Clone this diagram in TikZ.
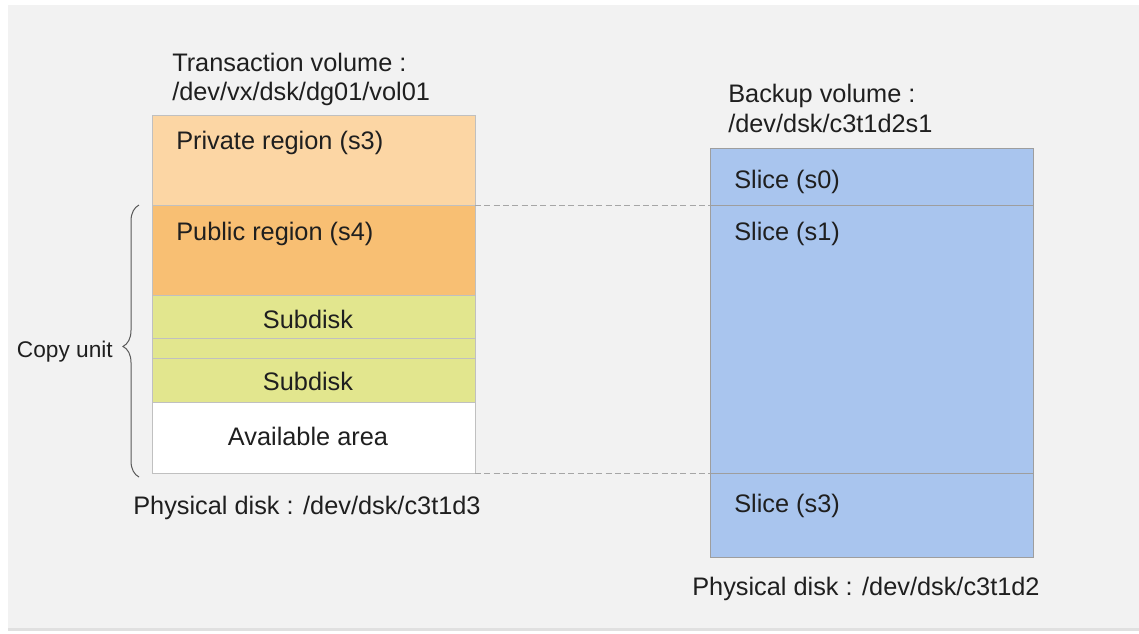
\documentclass[tikz,border=0pt]{standalone}
\usepackage{fontspec}
\setmainfont{Liberation Sans}
\usetikzlibrary{decorations.pathreplacing}
\definecolor{panelgray}{HTML}{F2F2F2}
\definecolor{privcol}{HTML}{FCD6A4}
\definecolor{pubcol}{HTML}{F8BF73}
\definecolor{subcol}{HTML}{E2E68E}
\definecolor{slicecol}{HTML}{A9C5EE}
\definecolor{edgegray}{HTML}{C0C0C0}
\begin{document}
\begin{tikzpicture}[x=0.75pt,y=-0.75pt]
\tikzstyle{region} = [draw=edgegray, line width=0.75pt, inner sep=0, outer sep=0, anchor=north west, minimum width=242.25pt]
\tikzstyle{slice} = [region, fill=slicecol, draw=black!38]
\tikzstyle{txt} = [inner sep=0, font=\fontsize{19}{22}\selectfont, text=black!88]
\tikzstyle{guide} = [draw=black!35, line width=0.75pt, dash pattern=on 4.5pt off 2.5pt]
\tikzstyle{curly} = [decorate, decoration={brace, amplitude=12pt, aspect=0.48}, draw=black!65, line width=0.75pt]
\useasboundingbox (0,0) rectangle (1139,633);
    \fill[white] (0,0) rectangle (1139,633);
    \fill[black!12] (8,7) rectangle (1139,631);
    \fill[panelgray] (8,5) rectangle (1139,628);

% transaction volume
\node [region, fill=privcol, minimum height=67.5pt] (private) at (152,115) {};
\node [region, fill=pubcol, minimum height=67.5pt] (public) at (152,205) {};
\node [region, fill=subcol, minimum height=32.25pt] (sub1) at (152,295) {};
\node [region, fill=subcol, minimum height=15pt] (subgap) at (152,338) {};
\node [region, fill=subcol, minimum height=33pt] (sub2) at (152,358) {};
\node [region, fill=white, minimum height=53.25pt] (avail) at (152,402) {};

% backup volume
\node [slice, minimum height=42.75pt] (slice0) at (710,148) {};
\node [slice, minimum height=201pt] (slice1) at (710,205) {};
\node [slice, minimum height=63pt] (slice3) at (710,473) {};

\draw [guide] (private.south east) -- (slice0.south west);
\draw [guide] (avail.south east) -- (slice1.south west);

\coordinate (cutop) at (139,205);
\coordinate (cubot) at (139,477);
\draw [curly] (cubot) -- (cutop);

\node [txt, anchor=base west] (tvtitle) at (172,71) {Transaction volume :};
\node [txt, anchor=base west] (tvpath) at (172,100) {/dev/vx/dsk/dg01/vol01};
\node [txt, anchor=base west] (privtxt) at (176,149) {Private region (s3)};
\node [txt, anchor=base west] (pubtxt) at (176,240) {Public region (s4)};
\node [txt, anchor=base] (sub1txt) at (308,328) {Subdisk};
\node [txt, anchor=base] (sub2txt) at (308,390) {Subdisk};
\node [txt, anchor=base] (availtxt) at (308,445) {Available area};
\node [txt, anchor=base west] (tvdisk) at (133,514) {Physical disk : /dev/dsk/c3t1d3};
\node [txt, anchor=base east, font=\fontsize{17}{20}\selectfont] (cutxt) at (113,357) {Copy unit};
\node [txt, anchor=base west] (bvtitle) at (728,102) {Backup volume :};
\node [txt, anchor=base west] (bvpath) at (728,132) {/dev/dsk/c3t1d2s1};
\node [txt, anchor=base west] (s0txt) at (734,188) {Slice (s0)};
\node [txt, anchor=base west] (s1txt) at (734,240) {Slice (s1)};
\node [txt, anchor=base west] (s3txt) at (734,512) {Slice (s3)};
\node [txt, anchor=base west] (bvdisk) at (692,595) {Physical disk : /dev/dsk/c3t1d2};
\end{tikzpicture}
\end{document}
